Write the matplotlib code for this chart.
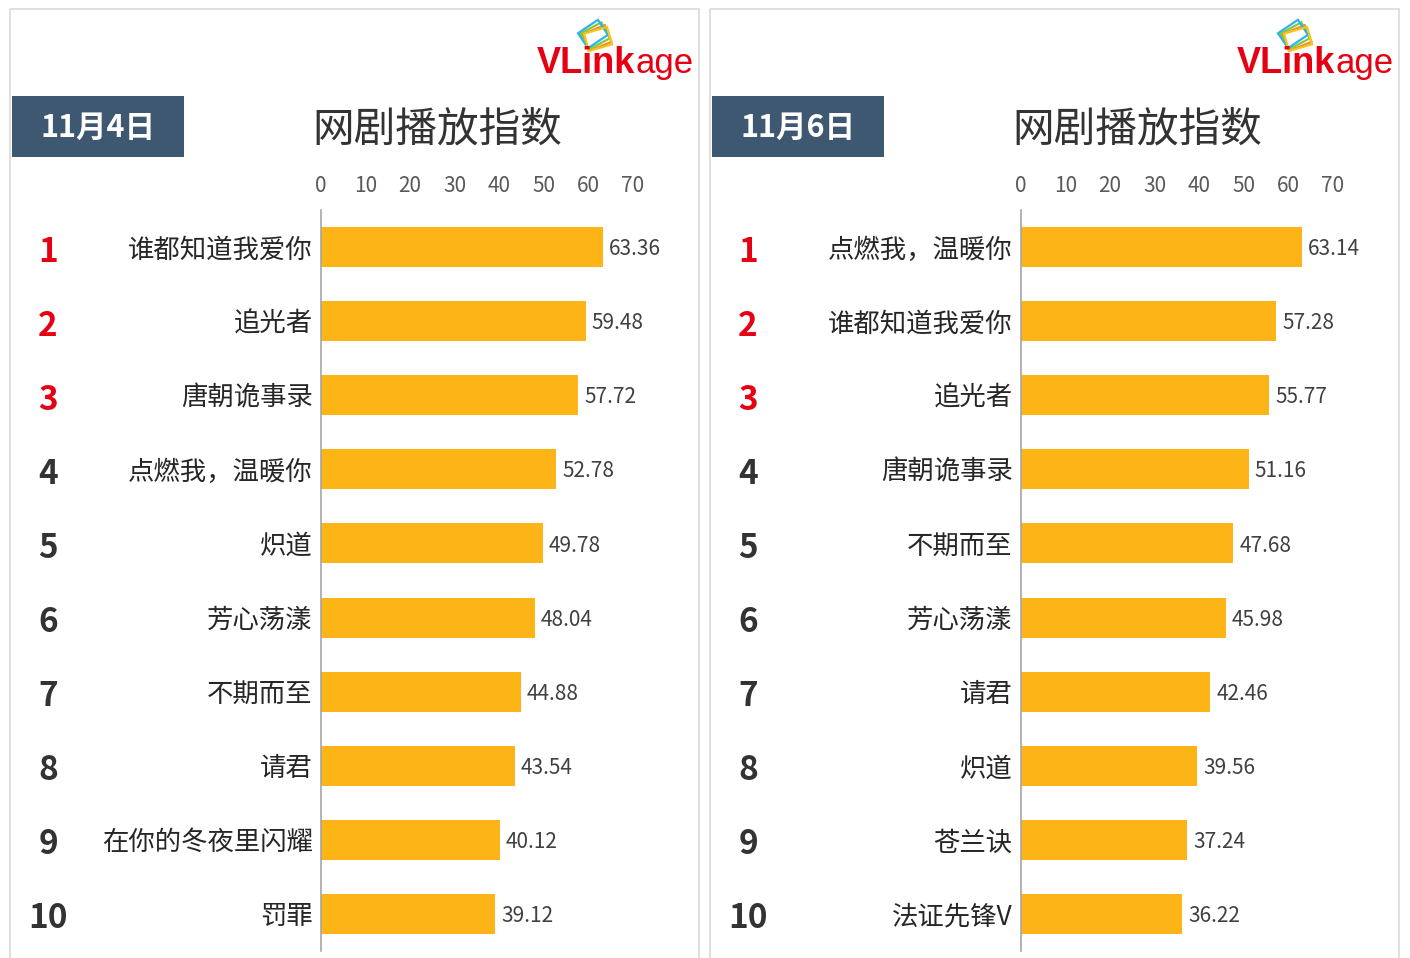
import matplotlib.pyplot as plt
from matplotlib.patches import Rectangle
from matplotlib import transforms

plt.rcParams['font.family'] = ['Noto Sans CJK SC', 'DejaVu Sans']

# data
dates = ['11月4日', '11月6日']
names_left = ['谁都知道我爱你', '追光者', '唐朝诡事录', '点燃我，温暖你', '炽道',
              '芳心荡漾', '不期而至', '请君', '在你的冬夜里闪耀', '罚罪']
values_left = [63.36, 59.48, 57.72, 52.78, 49.78, 48.04, 44.88, 43.54, 40.12, 39.12]
names_right = ['点燃我，温暖你', '谁都知道我爱你', '追光者', '唐朝诡事录', '不期而至',
               '芳心荡漾', '请君', '炽道', '苍兰诀', '法证先锋V']
values_right = [63.14, 57.28, 55.77, 51.16, 47.68, 45.98, 42.46, 39.56, 37.24, 36.22]
ranks = list(range(1, 11))
xticks = [0, 10, 20, 30, 40, 50, 60, 70]

W, H = 1410, 958
fig = plt.figure(figsize=(W / 100, H / 100), dpi=100)
fig.patch.set_facecolor('white')

# overlay axes in pixel coords for decorations
bg = fig.add_axes([0, 0, 1, 1], zorder=0)
bg.set_xlim(0, W)
bg.set_ylim(H, 0)
bg.axis('off')

bar_color = '#fdb417'
red = '#e60012'
renderer = fig.canvas.get_renderer()


def draw_panel(dx, date, names, values):
    # panel border
    bg.add_patch(Rectangle((10 + dx, 9), 689, 960, fill=False, ec='#d9d9d9', lw=1.2))
    # date box
    bg.add_patch(Rectangle((12 + dx, 96), 172, 61, color='#3f5872', lw=0))
    bg.text(98 + dx, 128, date, color='white', fontsize=22, fontweight='bold',
            ha='center', va='center')
    # title
    bg.text(437 + dx, 130, '网剧播放指数', color='#333333', fontsize=30,
            ha='center', va='center')
    # logo icon
    for (cx, cy, ang, c) in [(597, 38, -22, '#f08a2c'), (595, 36, -28, '#8cc63f'),
                             (593, 34, -34, '#29b6e8'), (598, 39, -16, '#f5c518')]:
        t = transforms.Affine2D().rotate_deg_around(cx + dx, cy, ang) + bg.transData
        bg.add_patch(Rectangle((cx + dx - 12, cy - 9), 24, 18, fill=False, ec=c,
                               lw=1.6, transform=t))
    t1 = bg.text(537 + dx, 73, 'VLink', color=red, fontsize=26, fontweight='bold',
                 family='Liberation Sans', ha='left', va='baseline')
    bb = t1.get_window_extent(renderer)
    bg.text(bb.x1 * W / fig.bbox.width, 73, 'age', color=red, fontsize=25,
            family='Liberation Sans', ha='left', va='baseline')

    # bar chart
    ax = fig.add_axes([(321 + dx) / W, 1 - 951 / H, 311.5 / W, 741 / H], zorder=2)
    ax.patch.set_alpha(0)
    ypos = list(range(len(values)))
    ax.barh(ypos, values, height=0.54, color=bar_color)
    ax.set_xlim(0, 70)
    ax.set_ylim(9.5, -0.5)
    ax.xaxis.tick_top()
    ax.set_xticks(xticks)
    ax.tick_params(axis='x', length=0, pad=9, labelsize=15, labelcolor='#595959')
    ax.set_yticks(ypos)
    ax.set_yticklabels(names, fontsize=19, color='#262626')
    ax.tick_params(axis='y', length=0, pad=6)
    for s in ['top', 'right', 'bottom']:
        ax.spines[s].set_visible(False)
    ax.spines['left'].set_color('#a6a6a6')
    ax.spines['left'].set_linewidth(1.2)
    for y, v in zip(ypos, values):
        ax.annotate(f'{v:.2f}', (v, y), xytext=(4.5, -1.5), textcoords='offset points',
                    ha='left', va='center', fontsize=15, color='#404040')
    # rank numbers
    for y, r in zip(ypos, ranks):
        py = 247 + 74.1 * y
        bg.text(48 + dx, py + 5, str(r), fontsize=24, fontweight='bold',
                color=red if r <= 3 else '#333333', ha='center', va='center')


draw_panel(0, dates[0], names_left, values_left)
draw_panel(700, dates[1], names_right, values_right)

fig.savefig('out.png', dpi=100)
